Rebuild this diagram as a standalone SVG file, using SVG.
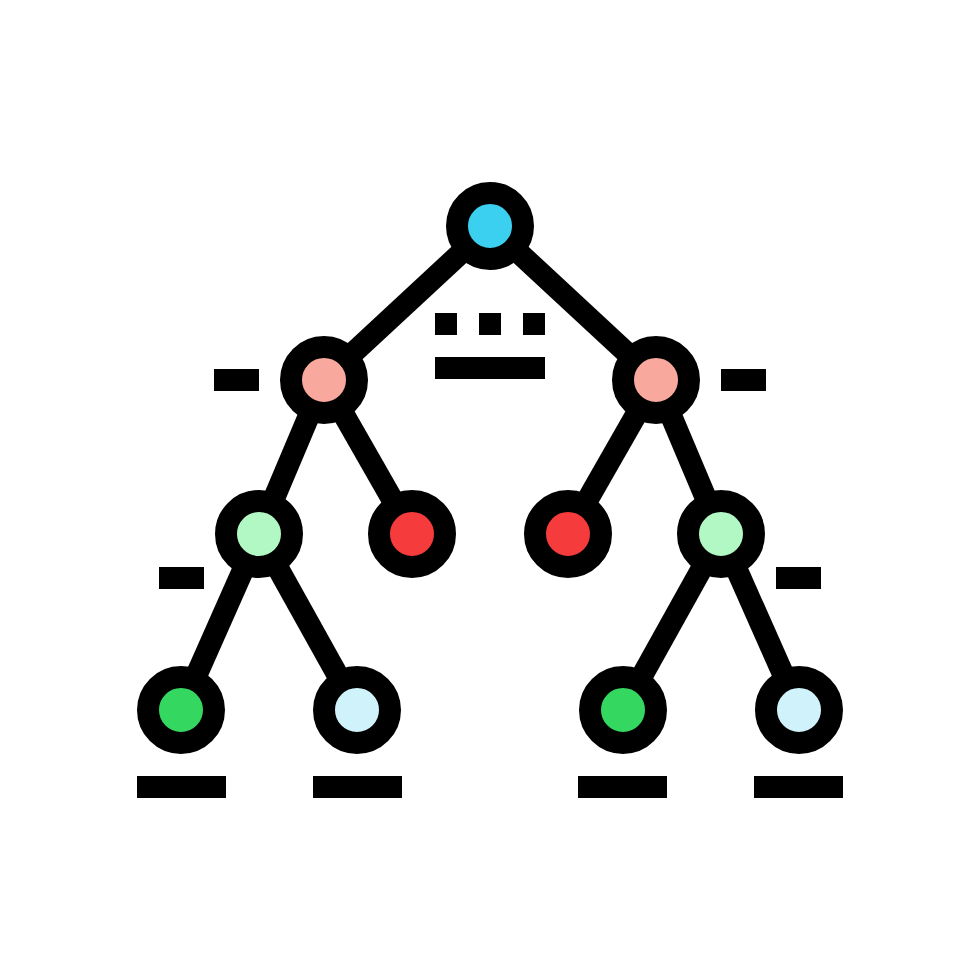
<svg xmlns="http://www.w3.org/2000/svg" width="980" height="980" viewBox="0 0 980 980">
<style>
.e{stroke:#000;stroke-width:22;fill:none}
.n{stroke:#000;stroke-width:22}
.b{fill:#000}
</style>
<rect width="980" height="980" fill="#fff"/>
<g id="connectors">
<line class="e" x1="490" y1="226" x2="324" y2="380"/>
<line class="e" x1="490" y1="226" x2="656" y2="380"/>
<line class="e" x1="324" y1="380" x2="259" y2="534"/>
<line class="e" x1="324" y1="380" x2="412" y2="534"/>
<line class="e" x1="656" y1="380" x2="721" y2="534"/>
<line class="e" x1="656" y1="380" x2="568" y2="534"/>
<line class="e" x1="259" y1="534" x2="181" y2="710"/>
<line class="e" x1="259" y1="534" x2="357" y2="710"/>
<line class="e" x1="721" y1="534" x2="799" y2="710"/>
<line class="e" x1="721" y1="534" x2="623" y2="710"/>
</g>
<g id="root"><circle class="n" cx="490" cy="226" r="33" fill="#3CD0F0"/></g>
<g id="n1l"><circle class="n" cx="324" cy="380" r="33" fill="#F8A89C"/></g>
<g id="n1r"><circle class="n" cx="656" cy="380" r="33" fill="#F8A89C"/></g>
<g id="n2ll"><circle class="n" cx="259" cy="534" r="33" fill="#B1F8C5"/></g>
<g id="n2lr"><circle class="n" cx="412" cy="534" r="33" fill="#F63B3D"/></g>
<g id="n2rl"><circle class="n" cx="568" cy="534" r="33" fill="#F63B3D"/></g>
<g id="n2rr"><circle class="n" cx="721" cy="534" r="33" fill="#B1F8C5"/></g>
<g id="n3a"><circle class="n" cx="181" cy="710" r="33" fill="#34D860"/></g>
<g id="n3b"><circle class="n" cx="357" cy="710" r="33" fill="#D0F2FA"/></g>
<g id="n3c"><circle class="n" cx="623" cy="710" r="33" fill="#34D860"/></g>
<g id="n3d"><circle class="n" cx="799" cy="710" r="33" fill="#D0F2FA"/></g>
<g id="marks">
<rect class="b" x="435" y="313" width="22" height="22"/>
<rect class="b" x="479" y="313" width="22" height="22"/>
<rect class="b" x="523" y="313" width="22" height="22"/>
<rect class="b" x="435" y="357" width="110" height="22"/>
<rect class="b" x="214" y="369" width="45" height="22"/>
<rect class="b" x="721" y="369" width="45" height="22"/>
<rect class="b" x="159" y="567" width="45" height="22"/>
<rect class="b" x="776" y="567" width="45" height="22"/>
<rect class="b" x="137" y="776" width="89" height="22"/>
<rect class="b" x="313" y="776" width="89" height="22"/>
<rect class="b" x="578" y="776" width="89" height="22"/>
<rect class="b" x="754" y="776" width="89" height="22"/>
</g>
</svg>
